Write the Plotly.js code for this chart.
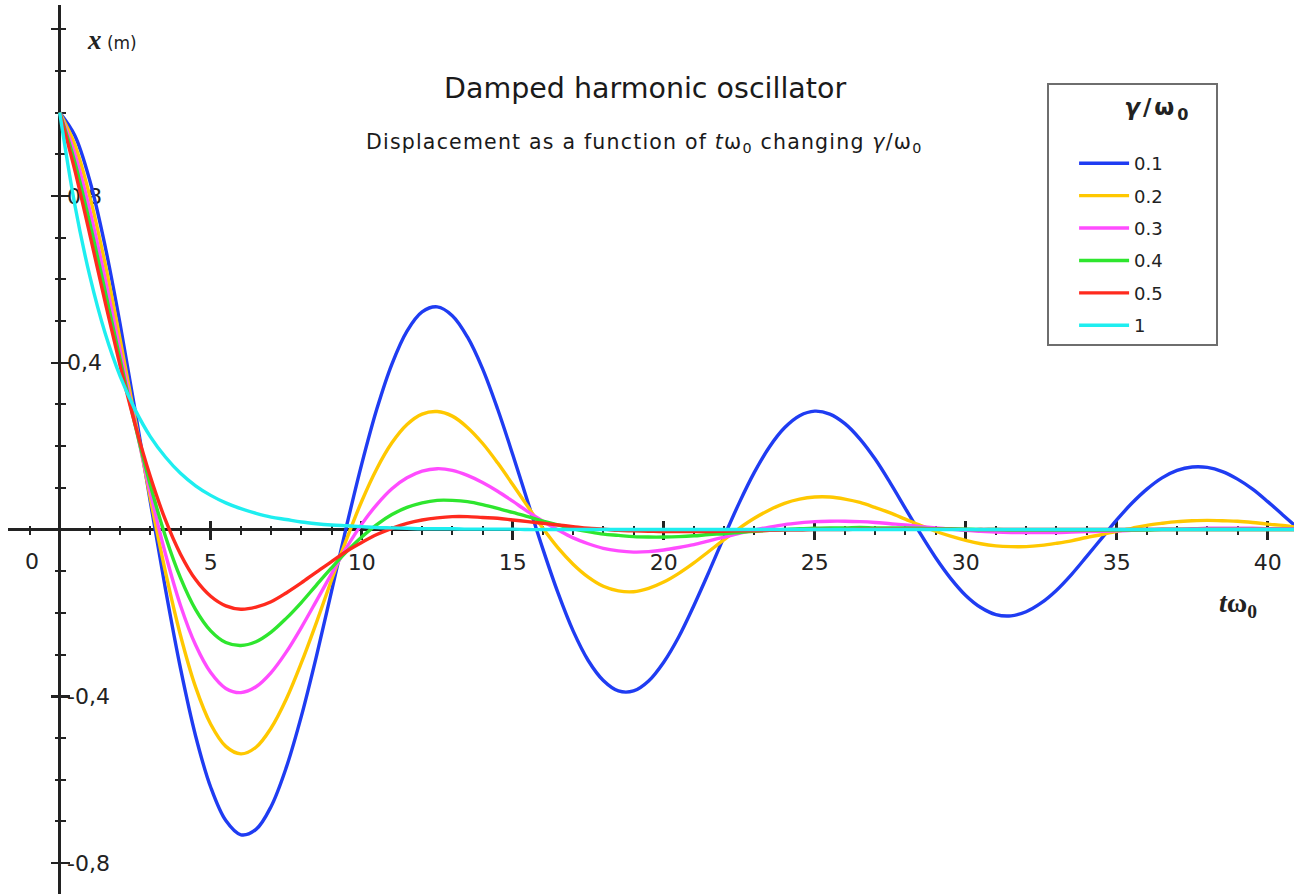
<!DOCTYPE html>
<html>
<head>
<meta charset="utf-8">
<script src="https://cdn.plot.ly/plotly-3.0.1.min.js"></script>
<style>
html,body{margin:0;padding:0;background:#ffffff;}
#chart{width:1294px;height:894px;}
</style>
</head>
<body>
<div id="chart"></div>
<script>
// time axis (t·ω0)
const t = [0,0.5,1,1.5,2,2.5,3,3.5,4,4.5,5,5.5,6,6.5,7,7.5,8,8.5,9,9.5,10,10.5,11,11.5,12,12.5,13,13.5,14,14.5,15,15.5,16,16.5,17,17.5,18,18.5,19,19.5,20,20.5,21,21.5,22,22.5,23,23.5,24,24.5,25,25.5,26,26.5,27,27.5,28,28.5,29,29.5,30,30.5,31,31.5,32,32.5,33,33.5,34,34.5,35,35.5,36,36.5,37,37.5,38,38.5,39,39.5,40,40.5,41];

// displacement x (m), one series per γ/ω0
const x01 = [1.000,0.945,0.836,0.681,0.493,0.284,0.067,-0.142,-0.333,
  -0.495,-0.618,-0.698,-0.732,-0.719,-0.664,-0.571,-0.448,-0.304,-0.148,
  0.009,0.157,0.289,0.397,0.476,0.522,0.534,0.513,0.462,0.386,
  0.289,0.180,0.066,-0.047,-0.152,-0.243,-0.314,-0.362,-0.387,-0.387,
  -0.363,-0.318,-0.257,-0.182,-0.101,-0.017,0.064,0.137,0.198,0.244,
  0.273,0.284,0.277,0.254,0.217,0.169,0.112,0.051,-0.010,-0.067,
  -0.117,-0.158,-0.187,-0.204,-0.207,-0.197,-0.176,-0.146,-0.108,-0.065,
  -0.021,0.023,0.063,0.097,0.124,0.142,0.150,0.149,0.139,0.121,
  0.097,0.067,0.035,0.003];
const x02 = [1.000,0.923,0.798,0.639,0.456,0.264,0.075,-0.101,-0.254,
  -0.378,-0.467,-0.520,-0.538,-0.522,-0.476,-0.407,-0.320,-0.223,-0.121,
  -0.023,0.068,0.146,0.208,0.252,0.277,0.283,0.272,0.245,0.207,
  0.160,0.108,0.055,0.003,-0.044,-0.083,-0.114,-0.136,-0.147,-0.149,
  -0.141,-0.126,-0.105,-0.080,-0.052,-0.024,0.003,0.027,0.047,0.063,
  0.073,0.078,0.078,0.073,0.065,0.053,0.040,0.025,0.010,-0.004,
  -0.016,-0.026,-0.034,-0.039,-0.041,-0.041,-0.038,-0.033,-0.027,-0.019,
  -0.012,-0.004,0.003,0.010,0.015,0.019,0.021,0.022,0.021,0.020,
  0.017,0.013,0.010,0.005];
const x03 = [1.000,0.901,0.765,0.603,0.429,0.254,0.089,-0.058,-0.182,
  -0.277,-0.343,-0.381,-0.391,-0.377,-0.343,-0.294,-0.235,-0.171,-0.106,
  -0.043,0.013,0.060,0.098,0.124,0.140,0.146,0.142,0.130,0.113,
  0.092,0.068,0.043,0.020,-0.001,-0.020,-0.034,-0.045,-0.051,-0.054,
  -0.053,-0.049,-0.043,-0.036,-0.027,-0.018,-0.009,-0.001,0.006,0.012,
  0.016,0.019,0.020,0.020,0.019,0.017,0.014,0.011,0.007,0.004,
  0.001,-0.002,-0.004,-0.006,-0.007,-0.007,-0.007,-0.007,-0.006,-0.005,
  -0.004,-0.003,-0.002,0.000,0.001,0.001,0.002,0.003,0.003,0.003,
  0.003,0.002,0.002,0.002];
const x04 = [1.000,0.881,0.734,0.573,0.408,0.250,0.107,-0.016,-0.116,
  -0.192,-0.243,-0.271,-0.278,-0.269,-0.246,-0.213,-0.175,-0.133,-0.092,
  -0.053,-0.018,0.012,0.036,0.053,0.064,0.070,0.070,0.067,0.060,
  0.051,0.041,0.031,0.020,0.011,0.002,-0.005,-0.011,-0.014,-0.017,
  -0.018,-0.018,-0.017,-0.015,-0.012,-0.010,-0.007,-0.004,-0.002,0.000,
  0.002,0.003,0.004,0.004,0.005,0.004,0.004,0.004,0.003,0.002,
  0.002,0.001,0.000,0.000,-0.001,-0.001,-0.001,-0.001,-0.001,-0.001,
  -0.001,-0.001,-0.001,-0.001,0.000,0.000,0.000,0.000,0.000,0.000,
  0.000,0.000,0.000,0.000];
const x05 = [1.000,0.862,0.707,0.547,0.393,0.251,0.127,0.023,-0.059,
  -0.120,-0.160,-0.183,-0.191,-0.186,-0.173,-0.152,-0.128,-0.102,-0.077,
  -0.052,-0.031,-0.012,0.003,0.015,0.023,0.028,0.031,0.031,0.029,
  0.027,0.023,0.019,0.015,0.011,0.007,0.003,0.001,-0.002,-0.003,
  -0.004,-0.005,-0.005,-0.005,-0.005,-0.004,-0.003,-0.003,-0.002,-0.001,
  -0.001,0.000,0.000,0.000,0.001,0.001,0.001,0.001,0.001,0.001,
  0.001,0.000,0.000,0.000,0.000,0.000,0.000,0.000,0.000,0.000,
  0.000,0.000,0.000,0.000,0.000,0.000,0.000,0.000,0.000,0.000,
  0.000,0.000,0.000,0.000];
const x10 = [1.000,0.779,0.607,0.472,0.368,0.287,0.223,0.174,0.135,
  0.105,0.082,0.064,0.050,0.039,0.030,0.024,0.018,0.014,0.011,
  0.009,0.007,0.005,0.004,0.003,0.002,0.002,0.002,0.001,0.001,
  0.001,0.001,0.000,0.000,0.000,0.000,0.000,0.000,0.000,0.000,
  0.000,0.000,0.000,0.000,0.000,0.000,0.000,0.000,0.000,0.000,
  0.000,0.000,0.000,0.000,0.000,0.000,0.000,0.000,0.000,0.000,
  0.000,0.000,0.000,0.000,0.000,0.000,0.000,0.000,0.000,0.000,
  0.000,0.000,0.000,0.000,0.000,0.000,0.000,0.000,0.000,0.000,
  0.000,0.000,0.000,0.000];

const seriesNames = ['0.1','0.2','0.3','0.4','0.5','1'];
const seriesColors = ['#1f3cf2','#ffc800','#ff4cff','#2ee62e','#ff2a1e','#1eeef0'];

// tick labels
const xTickVals = [5,10,15,20,25,30,35,40];
const xTickText = ['5','10','15','20','25','30','35','40'];
const xTickAll = [0,5,10,15,20,25,30,35,40];
const yTickVals = [-0.8,-0.4,0.4,0.8];
const yTickText = ['-0,8','-0,4','0,4','0,8'];
const yTickAll = [-0.8,-0.4,0,0.4,0.8,1.2];

const F = 'DejaVu Sans, Liberation Sans, Arial, sans-serif';
const SERIF = 'Liberation Serif, DejaVu Serif, serif';
const AX = '#222222';

const xRange = [-1.712, 40.87];
const yRange = [-0.874, 1.258];
const xAxisPos = (0 - yRange[0]) / (yRange[1] - yRange[0]);
const yAxisPos = (0 - xRange[0]) / (xRange[1] - xRange[0]);

const ys = [x01, x02, x03, x04, x05, x10];
const traces = ys.map((y, i) => ({
  type: 'scatter',
  mode: 'lines',
  x: t,
  y: y,
  name: seriesNames[i],
  legendgroup: 'g' + i,
  line: {color: seriesColors[i], width: 3.4, shape: 'spline', smoothing: 1},
  xaxis: i === ys.length - 1 ? 'x2' : 'x',
  yaxis: i === ys.length - 1 ? 'y2' : 'y',
  hoverinfo: 'skip'
}));

const minorX = {tickmode: 'linear', tick0: 0, dtick: 1, ticks: 'outside', ticklen: 4, tickwidth: 2, tickcolor: AX, showgrid: false};
const minorY = {tickmode: 'linear', tick0: 0, dtick: 0.1, ticks: 'outside', ticklen: 5, tickwidth: 2, tickcolor: AX, showgrid: false};

const NB = '\u00a0';
const layout = {
  width: 1294,
  height: 894,
  paper_bgcolor: '#ffffff',
  plot_bgcolor: '#ffffff',
  margin: {l: 8, r: 0, t: 5, b: 0, pad: 0},
  showlegend: true,
  title: {
    text: 'Damped harmonic oscillator',
    font: {family: F, size: 28.5, color: '#1a1a1a'},
    x: 0.4985, xanchor: 'center', xref: 'container',
    y: 0.9016, yanchor: 'middle', yref: 'container'
  },
  xaxis: {
    range: xRange, anchor: 'free', position: xAxisPos, side: 'bottom',
    showline: false, showgrid: false,
    zeroline: true, zerolinecolor: AX, zerolinewidth: 3,
    tickmode: 'array', tickvals: xTickVals, ticktext: xTickText,
    ticks: 'outside', ticklen: 9, tickwidth: 2.5, tickcolor: AX,
    ticklabelstandoff: 4,
    minor: minorX,
    tickfont: {family: F, size: 22, color: '#222'},
    layer: 'below traces', fixedrange: true
  },
  yaxis: {
    range: yRange, anchor: 'free', position: yAxisPos, side: 'right',
    showline: false, showgrid: false,
    zeroline: true, zerolinecolor: AX, zerolinewidth: 3,
    tickmode: 'array', tickvals: yTickVals, ticktext: yTickText,
    ticks: 'outside', ticklen: 9, tickwidth: 2.5, tickcolor: AX,
    ticklabelstandoff: -7,
    minor: minorY,
    tickfont: {family: F, size: 22, color: '#222'},
    layer: 'below traces', fixedrange: true
  },
  xaxis2: {
    overlaying: 'x', range: xRange, anchor: 'free', position: xAxisPos, side: 'top',
    showline: false, showgrid: false, zeroline: false, showticklabels: false,
    tickmode: 'array', tickvals: xTickAll,
    ticks: 'outside', ticklen: 9, tickwidth: 2.5, tickcolor: AX,
    minor: minorX, layer: 'below traces', fixedrange: true
  },
  yaxis2: {
    overlaying: 'y', range: yRange, anchor: 'free', position: yAxisPos, side: 'left',
    showline: false, showgrid: false, zeroline: false, showticklabels: false,
    tickmode: 'array', tickvals: yTickAll,
    ticks: 'outside', ticklen: 9, tickwidth: 2.5, tickcolor: AX,
    minor: minorY, layer: 'below traces', fixedrange: true
  },
  legend: {
    x: 0.808, y: 0.912, xanchor: 'left', yanchor: 'top',
    bgcolor: '#ffffff', bordercolor: '#6e6e6e', borderwidth: 2,
    font: {family: F, size: 18, color: '#222'},
    title: {
      text: NB.repeat(10) + '<span style="letter-spacing:3px"><b><i>γ</i>/ω<sub>0</sub></b></span>' + NB.repeat(3) + '<br>' + NB,
      font: {family: F, size: 23, color: '#222'},
      side: 'top'
    },
    tracegroupgap: 6,
    itemwidth: 50,
    indentation: 25,
    traceorder: 'grouped'
  },
  annotations: [
    {
      text: '<span style="letter-spacing:1.2px">Displacement as a function of <i>t</i>ω<sub>0</sub> changing <i>γ</i>/ω<sub>0</sub></span>',
      xref: 'paper', yref: 'paper', x: 0.4953, y: 0.8448,
      xanchor: 'center', yanchor: 'middle', showarrow: false,
      font: {family: F, size: 20.5, color: '#1a1a1a'}
    },
    {
      text: '<span style="font-family:Liberation Serif;font-size:27px"><b><i>x</i></b></span> (m)',
      xref: 'paper', yref: 'paper', x: 0.0599, y: 0.9606,
      xanchor: 'left', yanchor: 'middle', showarrow: false,
      font: {family: F, size: 17, color: '#222'}
    },
    {
      text: '<b><i>t</i>ω<sub>0</sub></b>',
      xref: 'paper', yref: 'paper', x: 0.9565, y: 0.3251,
      xanchor: 'center', yanchor: 'middle', showarrow: false,
      font: {family: SERIF, size: 28, color: '#222'}
    },
    {
      text: '0',
      xref: 'x', yref: 'y', x: 0, y: 0, xshift: -28, yshift: -32,
      xanchor: 'center', yanchor: 'middle', showarrow: false,
      font: {family: F, size: 22, color: '#222'}
    }
  ]
};

Plotly.newPlot('chart', traces, layout, {displayModeBar: false, staticPlot: true});
</script>
</body>
</html>
